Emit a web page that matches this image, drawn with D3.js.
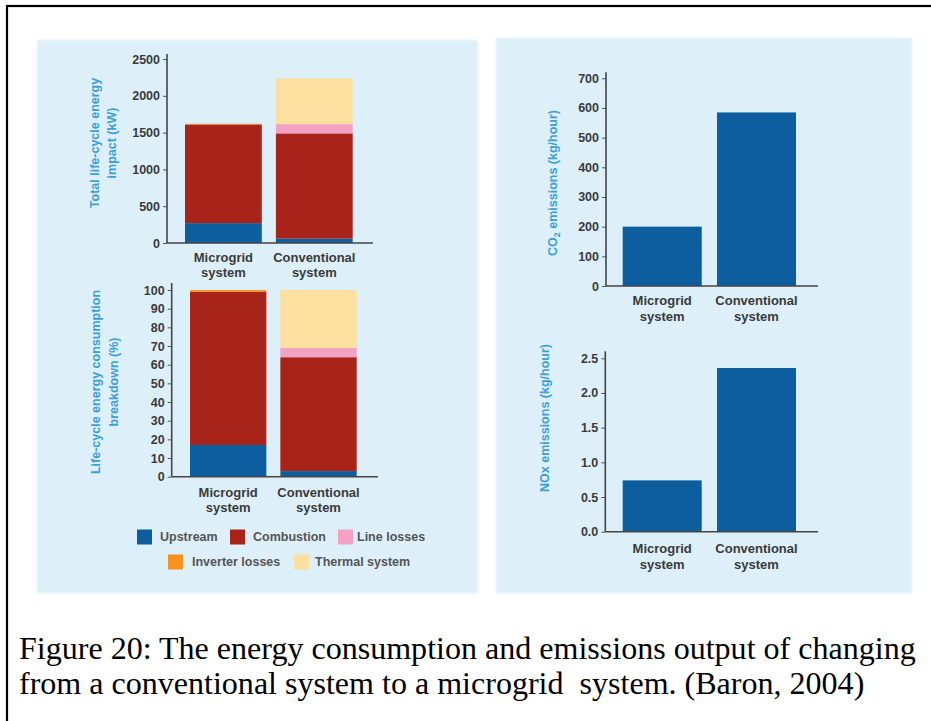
<!DOCTYPE html>
<html><head><meta charset="utf-8">
<script src="https://cdn.jsdelivr.net/npm/d3@7/dist/d3.min.js"></script>
<style>html,body{margin:0;padding:0;background:#fff;overflow:hidden}</style>
</head><body>
<svg id="c" width="931" height="721"></svg>
<script>
// ---------------- data ----------------
const categories = ["Microgrid", "Conventional"];
const categoryLine2 = ["system", "system"];
const seriesNames = ["Upstream", "Combustion", "Line losses", "Inverter losses", "Thermal system"];
const seriesKeys = ["upstream", "combustion", "lineLosses", "inverter", "thermal"];
const seriesColors = ["#0c5e9f", "#a8241b", "#f3a2c3", "#f6921e", "#fde0a0"];

// Total life-cycle energy impact (kW)
const energyUpstream   = [270, 60];
const energyCombustion = [1340, 1430];
const energyLineLosses = [0, 125];
const energyInverter   = [10, 0];
const energyThermal    = [0, 620];

// Life-cycle energy consumption breakdown (%)
const pctUpstream   = [17, 3];
const pctCombustion = [82, 61];
const pctLineLosses = [0, 5];
const pctInverter   = [1, 0];
const pctThermal    = [0, 31];

// Emissions
const co2Values = [200, 585];
const noxValues = [0.74, 2.36];

const energyTicks = [0, 500, 1000, 1500, 2000, 2500];
const pctTicks = [0, 10, 20, 30, 40, 50, 60, 70, 80, 90, 100];
const co2Ticks = [0, 100, 200, 300, 400, 500, 600, 700];
const noxTicks = [0, 0.5, 1.0, 1.5, 2.0, 2.5];

const captionLines = [
  "Figure 20: The energy consumption and emissions output of changing",
  "from a conventional system to a microgrid  system. (Baron, 2004)"
];

// ---------------- drawing ----------------
const svg = d3.select("#c");
const FONT = "'Liberation Sans', Arial, sans-serif";
const LABEL_BLUE = "#3d9fd4";
const DARK = "#3a3a3a";

// outer frame
svg.append("rect").attr("x", 7).attr("y", 6).attr("width", 960).attr("height", 760)
  .attr("fill", "none").attr("stroke", "#000").attr("stroke-width", 2.2);

// soft panel backgrounds
const defs = svg.append("defs");
defs.append("filter").attr("id", "soft").attr("x", "-5%").attr("y", "-5%").attr("width", "110%").attr("height", "110%")
  .append("feGaussianBlur").attr("stdDeviation", 1.2);
svg.append("rect").attr("x", 37).attr("y", 40).attr("width", 441).attr("height", 553)
  .attr("fill", "#ddf0fa").attr("filter", "url(#soft)");
svg.append("rect").attr("x", 496).attr("y", 38).attr("width", 416).attr("height", 555)
  .attr("fill", "#ddf0fa").attr("filter", "url(#soft)");

function buildRows(arrs) {
  return categories.map((c, i) => {
    const r = { cat: c };
    seriesKeys.forEach((k, j) => r[k] = arrs[j][i]);
    return r;
  });
}

function drawChart(cfg) {
  const g = svg.append("g");
  const y = d3.scaleLinear().domain([0, cfg.max]).range([cfg.y0, cfg.yMax]);
  const x = d3.scaleBand().domain(categories).range(cfg.barRange)
    .paddingInner(cfg.pad).paddingOuter(0);

  if (cfg.stackRows) {
    const stacked = d3.stack().keys(seriesKeys)(cfg.stackRows);
    stacked.forEach((layer, li) => {
      g.append("g").attr("fill", seriesColors[li])
        .selectAll("rect").data(layer).join("rect")
        .attr("x", d => x(d.data.cat))
        .attr("width", x.bandwidth())
        .attr("y", d => y(d[1]))
        .attr("height", d => Math.max(0, y(d[0]) - y(d[1])));
    });
  } else {
    g.selectAll("rect.bar").data(cfg.values).join("rect")
      .attr("class", "bar")
      .attr("x", (d, i) => x(categories[i]))
      .attr("width", x.bandwidth())
      .attr("y", d => y(d))
      .attr("height", d => y(0) - y(d))
      .attr("fill", seriesColors[0]);
  }

  const ax = g.append("g").attr("transform", `translate(${cfg.axisX},0)`)
    .call(d3.axisLeft(y).tickValues(cfg.ticks).tickFormat(cfg.fmt).tickSize(4).tickPadding(3));
  ax.select(".domain").remove();
  ax.selectAll(".tick line").attr("stroke", "#555").attr("stroke-width", 1);
  ax.selectAll(".tick text").attr("fill", DARK).attr("font-family", FONT)
    .attr("font-weight", "bold").attr("font-size", cfg.tickFs || 12.5);

  // axis lines
  g.append("line").attr("x1", cfg.axisX).attr("x2", cfg.axisX)
    .attr("y1", y(0)).attr("y2", y(cfg.max) - cfg.extTop)
    .attr("stroke", "#444").attr("stroke-width", 1.6);
  g.append("line").attr("x1", cfg.axisX).attr("x2", cfg.axisEnd)
    .attr("y1", y(0)).attr("y2", y(0))
    .attr("stroke", "#444").attr("stroke-width", 1.6);

  // x labels
  categories.forEach((c, i) => {
    const cx = x(c) + x.bandwidth() / 2;
    g.append("text").attr("x", cx).attr("y", y(0) + cfg.xl1).attr("text-anchor", "middle")
      .attr("font-family", FONT).attr("font-weight", "bold").attr("font-size", 13)
      .attr("fill", DARK).text(c);
    g.append("text").attr("x", cx).attr("y", y(0) + cfg.xl2).attr("text-anchor", "middle")
      .attr("font-family", FONT).attr("font-weight", "bold").attr("font-size", 13)
      .attr("fill", DARK).text(categoryLine2[i]);
  });

  // y labels
  cfg.ylabels.forEach(l => {
    const t = g.append("text").attr("transform", `translate(${l.x},${l.y}) rotate(-90)`)
      .attr("text-anchor", "middle").attr("font-family", FONT).attr("font-weight", "bold")
      .attr("font-size", 12.5).attr("fill", LABEL_BLUE);
    if (l.sub) {
      t.append("tspan").text(l.text[0]);
      t.append("tspan").attr("font-size", 9).attr("dy", 3).text(l.sub);
      t.append("tspan").attr("dy", -3).text(l.text[1]);
    } else {
      t.text(l.text);
    }
  });
}

drawChart({
  max: 2500, y0: 243, yMax: 59, axisX: 167, axisEnd: 373, extTop: 5,
  barRange: [185, 352.7], pad: 0.155, ticks: energyTicks, fmt: d3.format("d"),
  stackRows: buildRows([energyUpstream, energyCombustion, energyLineLosses, energyInverter, energyThermal]),
  xl1: 18.5, xl2: 34,
  ylabels: [
    { x: 99, y: 143, text: "Total life-cycle energy" },
    { x: 116, y: 143, text: "impact (kW)" }
  ]
});

drawChart({
  max: 100, y0: 476.7, yMax: 290, axisX: 171.7, axisEnd: 378, extTop: 7,
  barRange: [190, 356.7], pad: 0.155, ticks: pctTicks, fmt: d3.format("d"),
  stackRows: buildRows([pctUpstream, pctCombustion, pctLineLosses, pctInverter, pctThermal]),
  xl1: 20, xl2: 35.5,
  ylabels: [
    { x: 100, y: 382, text: "Life-cycle energy consumption" },
    { x: 118, y: 382, text: "breakdown (%)" }
  ]
});

drawChart({
  max: 700, y0: 286, yMax: 78.3, axisX: 606, axisEnd: 818, extTop: 6,
  barRange: [622.7, 796], pad: 0.162, ticks: co2Ticks, fmt: d3.format("d"),
  values: co2Values,
  xl1: 19, xl2: 35,
  ylabels: [
    { x: 557, y: 183, text: ["CO", " emissions (kg/hour)"], sub: "2" }
  ]
});

drawChart({
  max: 2.5, y0: 531.7, yMax: 358.3, axisX: 605.3, axisEnd: 818, extTop: 7,
  barRange: [622.7, 796], pad: 0.162, ticks: noxTicks, fmt: d3.format(".1f"),
  values: noxValues,
  xl1: 21, xl2: 37,
  ylabels: [
    { x: 549, y: 418, text: "NOx emissions (kg/hour)" }
  ]
});

// legend
const legendPos = [
  { sx: 137, tx: 160, cy: 537 },
  { sx: 230, tx: 253, cy: 537 },
  { sx: 338, tx: 357, cy: 537 },
  { sx: 168, tx: 192, cy: 562 },
  { sx: 294, tx: 315, cy: 562 }
];
const lg = svg.append("g");
seriesNames.forEach((name, i) => {
  const p = legendPos[i];
  lg.append("rect").attr("x", p.sx).attr("y", p.cy - 7.5).attr("width", 15).attr("height", 15)
    .attr("fill", seriesColors[i]);
  lg.append("text").attr("x", p.tx).attr("y", p.cy + 4.3).attr("font-family", FONT)
    .attr("font-weight", "bold").attr("font-size", 12.5).attr("fill", "#555").text(name);
});

// caption (text in the reference is horizontally condensed)
const capTargetWidth = 897;
const capFs = 31.5;
const cap = svg.append("g");
const baselines = [659, 694];
const t0 = cap.append("text").attr("x", 0).attr("y", baselines[0])
  .attr("font-family", "'Liberation Serif', 'Times New Roman', serif").attr("font-size", capFs)
  .attr("fill", "#000").text(captionLines[0]);
cap.append("text").attr("x", 0).attr("y", baselines[1])
  .attr("font-family", "'Liberation Serif', 'Times New Roman', serif").attr("font-size", capFs)
  .attr("fill", "#000").style("white-space", "pre").text(captionLines[1]);
const w0 = t0.node().getComputedTextLength();
cap.attr("transform", `translate(19,0) scale(${capTargetWidth / w0},1)`);
</script>
</body></html>
